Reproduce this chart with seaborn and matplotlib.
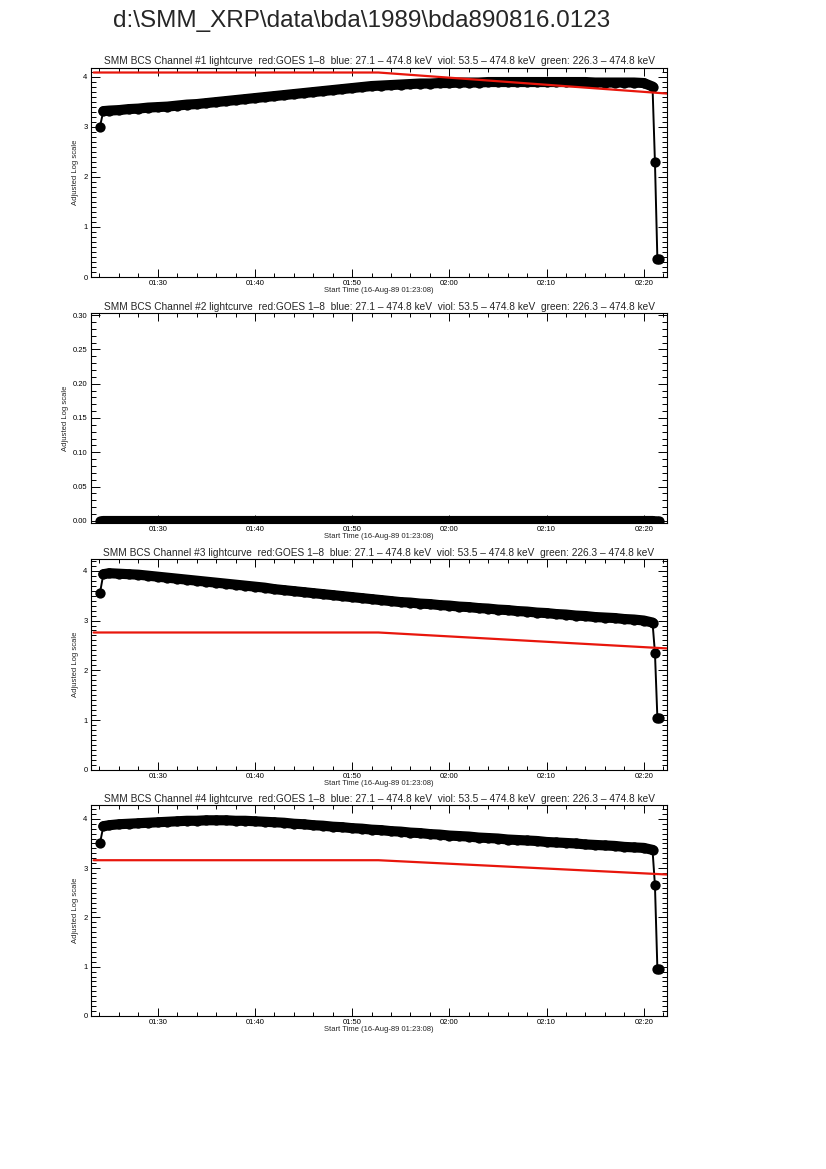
import matplotlib
matplotlib.use("Agg")
import matplotlib.pyplot as plt
from matplotlib.ticker import MultipleLocator, FixedLocator
import seaborn as sns
import pandas as pd

sns.set_style("ticks")
plt.rcParams['font.family'] = ['Liberation Sans', 'DejaVu Sans']

# ---------------- data ----------------
figure_title = r"d:\SMM_XRP\data\bda\1989\bda890816.0123"
panel_titles = [
    "SMM BCS Channel #%d lightcurve  red:GOES 1\u20138  blue: 27.1 \u2013 474.8 keV  viol: 53.5 \u2013 474.8 keV  green: 226.3 \u2013 474.8 keV" % i
    for i in (1, 2, 3, 4)
]
x_label = "Start Time (16-Aug-89 01:23:08)"
y_label = "Adjusted Log scale"

# time in minutes after 01:00 UT
minutes = [24.05, 24.4, 25, 26, 27, 28, 29, 30, 31, 32, 33, 34, 35, 36, 37, 38, 39,
           40, 41, 42, 43, 44, 45, 46, 47, 48, 49, 50, 51, 52, 53, 54, 55, 56, 57, 58, 59,
           60, 61, 62, 63, 64, 65, 66, 67, 68, 69, 70, 71, 72, 73, 74, 75, 76, 77, 78, 79,
           80, 80.9, 81.15, 81.4, 81.6]

ch1 = [3.00, 3.31, 3.32, 3.33, 3.35, 3.36, 3.38, 3.39, 3.40, 3.42, 3.44, 3.45, 3.47, 3.49, 3.51, 3.53, 3.55,
       3.57, 3.59, 3.61, 3.63, 3.65, 3.67, 3.69, 3.71, 3.73, 3.75, 3.77, 3.79, 3.81, 3.82, 3.83, 3.84, 3.85, 3.86, 3.86, 3.87,
       3.87, 3.88, 3.88, 3.88, 3.89, 3.89, 3.89, 3.89, 3.89, 3.89, 3.89, 3.89, 3.89, 3.89, 3.89, 3.88, 3.88, 3.88, 3.88, 3.88,
       3.87, 3.80, 2.29, 0.36, 0.36]

ch2 = [0.0] * len(minutes)

ch3 = [3.55, 3.93, 3.95, 3.94, 3.93, 3.92, 3.90, 3.88, 3.86, 3.84, 3.82, 3.80, 3.78, 3.76, 3.74, 3.72, 3.70,
       3.68, 3.66, 3.63, 3.61, 3.59, 3.57, 3.55, 3.53, 3.51, 3.49, 3.47, 3.45, 3.43, 3.41, 3.39, 3.37, 3.36, 3.34, 3.33, 3.31,
       3.30, 3.28, 3.27, 3.25, 3.24, 3.22, 3.21, 3.19, 3.18, 3.16, 3.15, 3.13, 3.12, 3.10, 3.09, 3.07, 3.06, 3.05, 3.03, 3.02,
       3.00, 2.96, 2.35, 1.05, 1.05]

ch4 = [3.50, 3.85, 3.87, 3.89, 3.90, 3.91, 3.92, 3.93, 3.94, 3.95, 3.96, 3.96, 3.97, 3.97, 3.97, 3.96, 3.96,
       3.95, 3.94, 3.93, 3.92, 3.90, 3.89, 3.87, 3.86, 3.84, 3.83, 3.81, 3.80, 3.78, 3.77, 3.75, 3.74, 3.72, 3.71, 3.69, 3.68,
       3.66, 3.65, 3.64, 3.62, 3.61, 3.60, 3.58, 3.57, 3.56, 3.55, 3.53, 3.52, 3.51, 3.50, 3.48, 3.47, 3.46, 3.45, 3.43, 3.42,
       3.41, 3.37, 2.65, 0.96, 0.95]

goes_minutes = [23.4, 52.7, 82.4]
goes_ch1 = [4.08, 4.08, 3.66]
goes_ch3 = [2.76, 2.76, 2.44]
goes_ch4 = [3.16, 3.16, 2.87]

xtick_pos = [30, 40, 50, 60, 70, 80]
xtick_labels = ["01:30", "01:40", "01:50", "02:00", "02:10", "02:20"]

channels = [ch1, ch2, ch3, ch4]
goes = [goes_ch1, None, goes_ch3, goes_ch4]

# ---------------- layout ----------------
W, H = 826, 1169
fig = plt.figure(figsize=(W / 100, H / 100), dpi=100)
fig.patch.set_facecolor("white")

left_px, right_px = 91, 667
panels_px = [(67.5, 277), (313, 523), (559, 770), (805, 1016)]
ylims = [(0, 4.18), (-0.003, 0.303), (0, 4.235), (0, 4.28)]
ymajor = [1, 0.05, 1, 1]
yminor = [0.1, 0.01, 0.1, 0.1]
xlim = (23.13, 82.39)

for i in range(4):
    top, bot = panels_px[i]
    ax = fig.add_axes([left_px / W, 1 - bot / H, (right_px - left_px) / W, (bot - top) / H])
    df = pd.DataFrame({"t": minutes, "v": channels[i]})
    # dense part of the light curve (points overlap into a band)
    band = df.iloc[1:59]
    sns.lineplot(data=band, x="t", y="v", ax=ax, color="black", lw=7.3,
                 solid_capstyle="round", solid_joinstyle="round", zorder=2)
    sns.lineplot(data=df, x="t", y="v", ax=ax, color="black", lw=1.4,
                 marker="o", markersize=7.4, markeredgewidth=0, zorder=2)
    if goes[i] is not None:
        gdf = pd.DataFrame({"t": goes_minutes, "v": goes[i]})
        sns.lineplot(data=gdf, x="t", y="v", ax=ax, color="#e8160c", lw=1.6, zorder=3)
    ax.set_xlim(*xlim)
    ax.set_ylim(*ylims[i])
    ax.xaxis.set_major_locator(FixedLocator(xtick_pos))
    ax.set_xticklabels(xtick_labels)
    ax.xaxis.set_minor_locator(MultipleLocator(2))
    ax.yaxis.set_major_locator(MultipleLocator(ymajor[i]))
    ax.yaxis.set_minor_locator(MultipleLocator(yminor[i]))
    if i == 1:
        ax.yaxis.set_major_formatter(matplotlib.ticker.FormatStrFormatter("%.2f"))
    else:
        ax.yaxis.set_major_formatter(matplotlib.ticker.FormatStrFormatter("%d"))
    ax.tick_params(which="both", direction="in", top=True, right=True, width=0.7,
                   labelsize=5.5, pad=2.5, colors="black")
    ax.tick_params(axis="y", which="major", length=6.5)
    ax.tick_params(axis="y", which="minor", length=3.5)
    ax.tick_params(axis="x", which="major", length=5.5)
    ax.tick_params(axis="x", which="minor", length=3)
    for s in ax.spines.values():
        s.set_linewidth(0.8)
        s.set_color("black")
    ax.set_xlabel(x_label, fontsize=5.5, labelpad=0)
    ax.set_ylabel(y_label, fontsize=5.5, labelpad=3)
    ax.set_title(panel_titles[i], fontsize=7.3, pad=2.5)

fig.text(362 / W, 1 - 21 / H, figure_title, fontsize=17.5, ha="center", va="center")

fig.savefig("out.png", dpi=100, facecolor="white")
